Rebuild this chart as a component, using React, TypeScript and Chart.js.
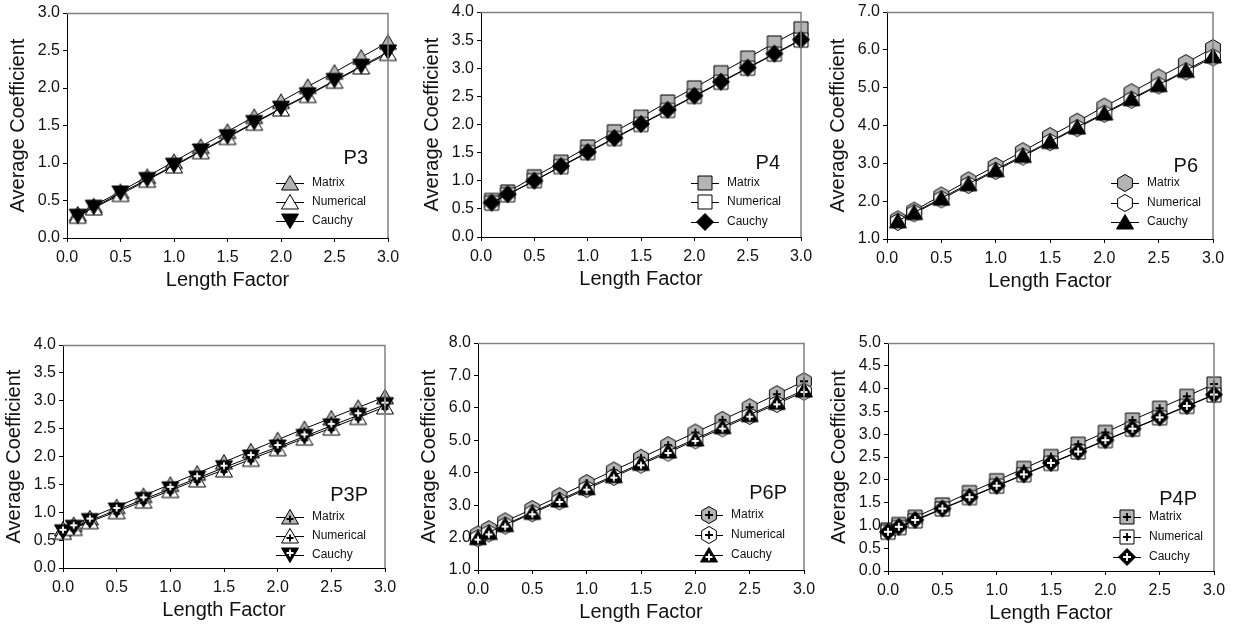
import React, { useEffect, useRef } from "react";
import { Chart, registerables } from "chart.js";

Chart.register(...registerables);

// ---------- data ----------
const xTop = [0.1, 0.25, 0.5, 0.75, 1.0, 1.25, 1.5, 1.75, 2.0, 2.25, 2.5, 2.75, 3.0];
const xBottom = [0, 0.1, 0.25, 0.5, 0.75, 1.0, 1.25, 1.5, 1.75, 2.0, 2.25, 2.5, 2.75, 3.0];
const seriesNames = ["Matrix", "Numerical", "Cauchy"];

const p3Matrix = [0.32, 0.43, 0.62, 0.82, 1.02, 1.22, 1.42, 1.62, 1.82, 2.02, 2.21, 2.41, 2.61];
const p3Numerical = [0.29, 0.4, 0.58, 0.77, 0.96, 1.15, 1.34, 1.53, 1.72, 1.9, 2.09, 2.28, 2.46];
const p3Cauchy = [0.29, 0.41, 0.6, 0.78, 0.97, 1.16, 1.35, 1.54, 1.73, 1.91, 2.1, 2.29, 2.48];

const p4Matrix = [0.65, 0.8, 1.07, 1.33, 1.6, 1.87, 2.13, 2.4, 2.65, 2.92, 3.18, 3.45, 3.7];
const p4Numerical = [0.6, 0.75, 1.0, 1.25, 1.5, 1.75, 2.0, 2.25, 2.5, 2.75, 3.0, 3.25, 3.5];
const p4Cauchy = [0.61, 0.76, 1.0, 1.26, 1.51, 1.76, 2.01, 2.26, 2.51, 2.76, 3.01, 3.26, 3.51];

const p6Matrix = [1.52, 1.75, 2.15, 2.55, 2.93, 3.32, 3.72, 4.1, 4.5, 4.88, 5.27, 5.65, 6.05];
const p6Numerical = [1.45, 1.68, 2.05, 2.43, 2.8, 3.18, 3.56, 3.93, 4.31, 4.68, 5.06, 5.43, 5.8];
const p6Cauchy = [1.48, 1.7, 2.08, 2.46, 2.83, 3.21, 3.58, 3.96, 4.33, 4.71, 5.08, 5.46, 5.84];

const p3pMatrix = [0.7, 0.78, 0.9, 1.1, 1.3, 1.5, 1.7, 1.9, 2.1, 2.3, 2.5, 2.69, 2.88, 3.07];
const p3pNumerical = [0.64, 0.71, 0.83, 1.01, 1.2, 1.39, 1.58, 1.76, 1.95, 2.14, 2.33, 2.51, 2.7, 2.89];
const p3pCauchy = [0.65, 0.73, 0.85, 1.04, 1.23, 1.42, 1.61, 1.8, 1.99, 2.17, 2.36, 2.55, 2.74, 2.93];

const p6pMatrix = [2.1, 2.26, 2.5, 2.88, 3.28, 3.68, 4.07, 4.46, 4.85, 5.24, 5.63, 6.02, 6.42, 6.82];
const p6pNumerical = [1.98, 2.13, 2.37, 2.75, 3.12, 3.5, 3.87, 4.25, 4.62, 5.0, 5.37, 5.75, 6.12, 6.5];
const p6pCauchy = [2.0, 2.16, 2.4, 2.78, 3.16, 3.54, 3.91, 4.29, 4.67, 5.04, 5.42, 5.79, 6.17, 6.55];

const p4pMatrix = [0.9, 1.02, 1.18, 1.45, 1.72, 1.98, 2.25, 2.51, 2.78, 3.04, 3.31, 3.57, 3.83, 4.1];
const p4pNumerical = [0.85, 0.95, 1.1, 1.36, 1.61, 1.86, 2.11, 2.36, 2.61, 2.86, 3.11, 3.36, 3.61, 3.86];
const p4pCauchy = [0.86, 0.97, 1.12, 1.37, 1.62, 1.87, 2.12, 2.37, 2.62, 2.87, 3.12, 3.37, 3.62, 3.87];

// ---------- styling / layout ----------
const FONT = 'Arial, "Liberation Sans", Helvetica, sans-serif';
const GRAY = "#b4b4b4";
const Y_W = 67;
const PAD_T = 13;
const PAD_R = 23;
const X_H = 78;

type Shape = "triUp" | "triDown" | "square" | "diamond" | "hexagon";

function makeMarker(shape: Shape, fill: string, plus: string | null): HTMLCanvasElement {
  const S = 20;
  const c = document.createElement("canvas");
  c.width = S;
  c.height = S;
  const ctx = c.getContext("2d")!;
  ctx.translate(S / 2, S / 2);
  ctx.beginPath();
  let py = 0;
  let ps = 4;
  if (shape === "triUp") {
    ctx.moveTo(0, -7.5);
    ctx.lineTo(8.5, 7);
    ctx.lineTo(-8.5, 7);
    py = 2;
    ps = 3.5;
  } else if (shape === "triDown") {
    ctx.moveTo(0, 7.5);
    ctx.lineTo(8.5, -7);
    ctx.lineTo(-8.5, -7);
    py = -2;
    ps = 3.5;
  } else if (shape === "square") {
    ctx.rect(-7, -7, 14, 14);
  } else if (shape === "diamond") {
    ctx.moveTo(0, -8.5);
    ctx.lineTo(8.5, 0);
    ctx.lineTo(0, 8.5);
    ctx.lineTo(-8.5, 0);
  } else {
    for (let k = 0; k < 6; k++) {
      const a = -Math.PI / 2 + (k * Math.PI) / 3;
      const px = 8.5 * Math.cos(a);
      const pyy = 8.5 * Math.sin(a);
      if (k === 0) ctx.moveTo(px, pyy);
      else ctx.lineTo(px, pyy);
    }
  }
  ctx.closePath();
  ctx.fillStyle = fill;
  ctx.fill();
  ctx.lineWidth = 1;
  ctx.strokeStyle = "#000";
  ctx.stroke();
  if (plus) {
    ctx.beginPath();
    ctx.moveTo(-ps, py);
    ctx.lineTo(ps, py);
    ctx.moveTo(0, py - ps);
    ctx.lineTo(0, py + ps);
    ctx.strokeStyle = plus;
    ctx.lineWidth = 1.8;
    ctx.stroke();
  }
  return c;
}

type MarkerSpec = { shape: Shape; fill: string; plus: string | null };

type PanelCfg = {
  label: string;
  x: number[];
  series: number[][];
  markers: MarkerSpec[];
  yMin: number;
  yMax: number;
  yStep: number;
  area: { left: number; right: number; top: number; bottom: number };
  legendDx: number;
  legendRows: number[];
  labelDx: number;
  labelDy: number;
};

const panels: PanelCfg[] = [
  {
    label: "P3",
    x: xTop,
    series: [p3Matrix, p3Numerical, p3Cauchy],
    markers: [
      { shape: "triUp", fill: GRAY, plus: null },
      { shape: "triUp", fill: "#fff", plus: null },
      { shape: "triDown", fill: "#000", plus: null },
    ],
    yMin: 0, yMax: 3, yStep: 0.5,
    area: { left: 67, right: 388, top: 13, bottom: 238 },
    legendDx: 98, legendRows: [55, 36, 17], labelDx: 20, labelDy: 80,
  },
  {
    label: "P4",
    x: xTop,
    series: [p4Matrix, p4Numerical, p4Cauchy],
    markers: [
      { shape: "square", fill: GRAY, plus: null },
      { shape: "square", fill: "#fff", plus: null },
      { shape: "diamond", fill: "#000", plus: null },
    ],
    yMin: 0, yMax: 4, yStep: 0.5,
    area: { left: 481, right: 801, top: 12, bottom: 237 },
    legendDx: 96, legendRows: [54, 35, 15], labelDx: 21, labelDy: 74,
  },
  {
    label: "P6",
    x: xTop,
    series: [p6Matrix, p6Numerical, p6Cauchy],
    markers: [
      { shape: "hexagon", fill: GRAY, plus: null },
      { shape: "hexagon", fill: "#fff", plus: null },
      { shape: "triUp", fill: "#000", plus: null },
    ],
    yMin: 1, yMax: 7, yStep: 1,
    area: { left: 887, right: 1213, top: 12, bottom: 239 },
    legendDx: 88, legendRows: [56, 36, 17], labelDx: 15, labelDy: 73,
  },
  {
    label: "P3P",
    x: xBottom,
    series: [p3pMatrix, p3pNumerical, p3pCauchy],
    markers: [
      { shape: "triUp", fill: GRAY, plus: "#000" },
      { shape: "triUp", fill: "#fff", plus: "#000" },
      { shape: "triDown", fill: "#000", plus: "#fff" },
    ],
    yMin: 0, yMax: 4, yStep: 0.5,
    area: { left: 63, right: 385, top: 345, bottom: 568 },
    legendDx: 95, legendRows: [51, 32, 13], labelDx: 17, labelDy: 73,
  },
  {
    label: "P6P",
    x: xBottom,
    series: [p6pMatrix, p6pNumerical, p6pCauchy],
    markers: [
      { shape: "hexagon", fill: GRAY, plus: "#000" },
      { shape: "hexagon", fill: "#fff", plus: "#000" },
      { shape: "triUp", fill: "#000", plus: "#fff" },
    ],
    yMin: 1, yMax: 8, yStep: 1,
    area: { left: 478, right: 804, top: 343, bottom: 570 },
    legendDx: 95, legendRows: [55, 35, 15], labelDx: 17, labelDy: 77,
  },
  {
    label: "P4P",
    x: xBottom,
    series: [p4pMatrix, p4pNumerical, p4pCauchy],
    markers: [
      { shape: "square", fill: GRAY, plus: "#000" },
      { shape: "square", fill: "#fff", plus: "#000" },
      { shape: "diamond", fill: "#000", plus: "#fff" },
    ],
    yMin: 0, yMax: 5, yStep: 0.5,
    area: { left: 888, right: 1214, top: 343, bottom: 571 },
    legendDx: 87, legendRows: [54, 34, 14], labelDx: 17, labelDy: 72,
  },
];

function Panel({ cfg }: { cfg: PanelCfg }) {
  const ref = useRef<HTMLCanvasElement>(null);
  const w = cfg.area.right - cfg.area.left + Y_W + PAD_R;
  const h = cfg.area.bottom - cfg.area.top + PAD_T + X_H;
  const left = cfg.area.left - Y_W;
  const top = cfg.area.top - PAD_T;

  useEffect(() => {
    const imgs = cfg.markers.map((m) => makeMarker(m.shape, m.fill, m.plus));
    const overlay = {
      id: "panelOverlay",
      afterDraw(chart: any) {
        const { ctx, chartArea } = chart;
        const { right, top: t, bottom } = chartArea;
        ctx.save();
        // frame (top / right)
        ctx.strokeStyle = "#808080";
        ctx.lineWidth = 1.5;
        ctx.beginPath();
        ctx.moveTo(chartArea.left, t + 0.5);
        ctx.lineTo(right, t + 0.5);
        ctx.lineTo(right, bottom);
        ctx.stroke();
        // legend
        const mx = right - cfg.legendDx;
        seriesNames.forEach((name, i) => {
          const y = bottom - cfg.legendRows[i];
          ctx.strokeStyle = "#000";
          ctx.lineWidth = 1;
          ctx.beginPath();
          ctx.moveTo(mx - 14, y + 0.5);
          ctx.lineTo(mx + 14, y + 0.5);
          ctx.stroke();
          const img = imgs[i];
          ctx.drawImage(img, Math.round(mx - img.width / 2), Math.round(y - img.height / 2));
          ctx.fillStyle = "#111";
          ctx.font = `12px ${FONT}`;
          ctx.textAlign = "left";
          ctx.textBaseline = "middle";
          ctx.fillText(name, mx + 22, y);
        });
        // panel label
        ctx.fillStyle = "#111";
        ctx.font = `20px ${FONT}`;
        ctx.textAlign = "right";
        ctx.textBaseline = "middle";
        ctx.fillText(cfg.label, right - cfg.labelDx, bottom - cfg.labelDy);
        ctx.restore();
      },
    };

    const order = [2, 1, 0];
    const chart = new Chart(ref.current!, {
      type: "line",
      data: {
        datasets: cfg.series.map((ys, i) => ({
          label: seriesNames[i],
          data: cfg.x.map((xv, j) => ({ x: xv, y: ys[j] })),
          borderColor: "#000",
          borderWidth: 1,
          backgroundColor: cfg.markers[i].fill,
          pointStyle: imgs[i] as any,
          pointRadius: 9,
          pointHoverRadius: 9,
          tension: 0,
          fill: false,
          clip: false as any,
          order: order[i],
        })),
      },
      options: {
        responsive: false,
        animation: false,
        events: [],
        layout: { padding: { top: PAD_T, right: PAD_R, left: 0, bottom: 0 } },
        plugins: {
          legend: { display: false },
          tooltip: { enabled: false },
          title: { display: false },
        },
        scales: {
          x: {
            type: "linear",
            min: 0,
            max: 3,
            afterFit: (s: any) => {
              s.height = X_H;
            },
            ticks: {
              stepSize: 0.5,
              color: "#111",
              font: { family: FONT, size: 16 },
              padding: 6,
              maxRotation: 0,
              callback: (v: any) => Number(v).toFixed(1),
            },
            grid: {
              drawOnChartArea: false,
              drawTicks: true,
              tickLength: 4,
              color: "#000",
            },
            border: { display: true, color: "#000", width: 1 },
            title: {
              display: true,
              text: "Length Factor",
              color: "#111",
              font: { family: FONT, size: 20 },
              padding: { top: 0, bottom: 24 },
            },
          },
          y: {
            type: "linear",
            min: cfg.yMin,
            max: cfg.yMax,
            afterFit: (s: any) => {
              s.width = Y_W;
            },
            ticks: {
              stepSize: cfg.yStep,
              color: "#111",
              font: { family: FONT, size: 16 },
              padding: 3,
              callback: (v: any) => Number(v).toFixed(1),
            },
            grid: {
              drawOnChartArea: false,
              drawTicks: true,
              tickLength: 4,
              color: "#000",
            },
            border: { display: true, color: "#000", width: 1 },
            title: {
              display: true,
              text: "Average Coefficient",
              color: "#111",
              font: { family: FONT, size: 20 },
              padding: { top: 6, bottom: 0 },
            },
          },
        },
      },
      plugins: [overlay],
    } as any);
    return () => chart.destroy();
  }, []);

  return (
    <canvas
      ref={ref}
      width={w}
      height={h}
      style={{ position: "absolute", left, top, width: w, height: h }}
    />
  );
}

export default function App() {
  return (
    <div
      style={{
        position: "absolute",
        left: 0,
        top: 0,
        width: 1235,
        height: 632,
        background: "#fff",
        overflow: "hidden",
      }}
    >
      {panels.map((p) => (
        <Panel key={p.label} cfg={p} />
      ))}
    </div>
  );
}
